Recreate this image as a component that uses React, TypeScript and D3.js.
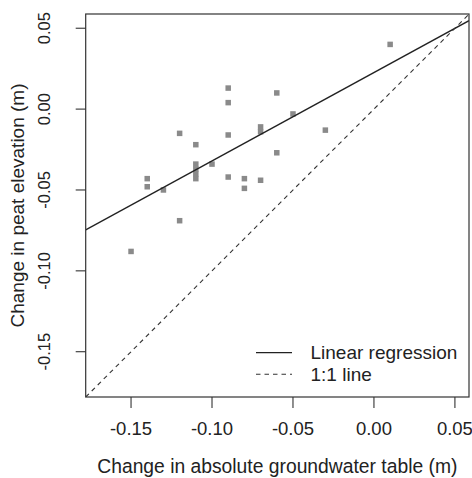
import React from "react";
import * as d3 from "d3";

// Data
const groundwater = [
  0.01, -0.09, -0.09, -0.06, -0.05, -0.07, -0.07, -0.03, -0.12, -0.09, -0.11, -0.06,
  -0.11, -0.11, -0.11, -0.11, -0.10, -0.09, -0.08, -0.08, -0.07, -0.14, -0.14, -0.13,
  -0.12, -0.15,
];
const peat = [
  0.040, 0.013, 0.004, 0.010, -0.003, -0.011, -0.014, -0.013, -0.015, -0.016, -0.022, -0.027,
  -0.034, -0.037, -0.040, -0.043, -0.034, -0.042, -0.043, -0.049, -0.044, -0.043, -0.048, -0.050,
  -0.069, -0.088,
];
const xTicks = [-0.15, -0.1, -0.05, 0.0, 0.05];
const yTicks = [-0.15, -0.1, -0.05, 0.0, 0.05];
const regIntercept = 0.0226;
const regSlope = 0.5465;
const xDomain = [-0.178, 0.0587];
const yDomain = [-0.178, 0.0588];
const legendLabels = ["Linear regression", "1:1 line"];
const xLabel = "Change in absolute groundwater table (m)";
const yLabel = "Change in peat elevation (m)";

const W = 472;
const H = 478;
const plot = { left: 85.7, right: 469, top: 14, bottom: 397 };
const font = "'Liberation Sans', Arial, Helvetica, sans-serif";
const ink = "#222";

export default function App() {
  const x = d3.scaleLinear().domain(xDomain).range([plot.left, plot.right]);
  const y = d3.scaleLinear().domain(yDomain).range([plot.bottom, plot.top]);
  const line = d3
    .line<[number, number]>()
    .x((d) => x(d[0]))
    .y((d) => y(d[1]));

  const regPts: [number, number][] = [
    [xDomain[0], regIntercept + regSlope * xDomain[0]],
    [xDomain[1], regIntercept + regSlope * xDomain[1]],
  ];
  const onePts: [number, number][] = [
    [xDomain[0], xDomain[0]],
    [xDomain[1], xDomain[1]],
  ];
  const sq = 5.5;
  const legX = 256;
  const legTextX = 310.5;
  const legY = [359.3, 380.5];

  return (
    <svg
      width={W}
      height={H}
      style={{ position: "absolute", left: 0, top: 0, background: "#fff" }}
    >
      <defs>
        <clipPath id="plotclip">
          <rect
            x={plot.left}
            y={plot.top}
            width={plot.right - plot.left}
            height={plot.bottom - plot.top}
          />
        </clipPath>
      </defs>
      <rect width={W} height={H} fill="#fff" />
      {/* points */}
      <g fill="#8a8a8a">
        {groundwater.map((g, i) => (
          <rect
            key={i}
            x={x(g) - sq / 2}
            y={y(peat[i]) - sq / 2}
            width={sq}
            height={sq}
          />
        ))}
      </g>
      {/* lines */}
      <g clipPath="url(#plotclip)" fill="none">
        <path d={line(regPts) || ""} stroke={ink} strokeWidth={1.3} />
        <path d={line(onePts) || ""} stroke="#333" strokeWidth={1.1} strokeDasharray="4.5,4" />
      </g>
      {/* box */}
      <rect
        x={plot.left}
        y={plot.top}
        width={plot.right - plot.left}
        height={plot.bottom - plot.top}
        fill="none"
        stroke="#333"
        strokeWidth={1.2}
      />
      {/* x axis */}
      <g>
        {xTicks.map((t) => (
          <g key={t}>
            <line x1={x(t)} x2={x(t)} y1={plot.bottom} y2={plot.bottom + 11} stroke="#333" strokeWidth={1.1} />
            <text
              x={x(t)}
              y={434.5}
              textAnchor="middle"
              fontFamily={font}
              fontSize={18.5}
              fill={ink}
            >
              {t.toFixed(2)}
            </text>
          </g>
        ))}
        <text
          x={(plot.left + plot.right) / 2}
          y={473}
          textAnchor="middle"
          fontFamily={font}
          fontSize={19.3}
          fill={ink}
        >
          {xLabel}
        </text>
      </g>
      {/* y axis */}
      <g>
        {yTicks.map((t) => (
          <g key={t}>
            <line x1={plot.left - 10} x2={plot.left} y1={y(t)} y2={y(t)} stroke="#333" strokeWidth={1.1} />
            <text
              transform={`translate(50,${y(t)}) rotate(-90)`}
              textAnchor="middle"
              fontFamily={font}
              fontSize={16.5}
              fill={ink}
            >
              {t.toFixed(2)}
            </text>
          </g>
        ))}
        <text
          transform={`translate(23.5,${(plot.top + plot.bottom) / 2}) rotate(-90)`}
          textAnchor="middle"
          fontFamily={font}
          fontSize={19}
          fill={ink}
        >
          {yLabel}
        </text>
      </g>
      {/* legend */}
      <g>
        <line x1={legX} x2={legX + 36} y1={legY[0] - 6.6} y2={legY[0] - 6.6} stroke={ink} strokeWidth={1.3} />
        <line
          x1={legX}
          x2={legX + 36}
          y1={legY[1] - 6.3}
          y2={legY[1] - 6.3}
          stroke="#333"
          strokeWidth={1.1}
          strokeDasharray="4.5,4"
        />
        {legendLabels.map((l, i) => (
          <text key={l} x={legTextX} y={legY[i]} fontFamily={font} fontSize={19} fill={ink}>
            {l}
          </text>
        ))}
      </g>
    </svg>
  );
}
